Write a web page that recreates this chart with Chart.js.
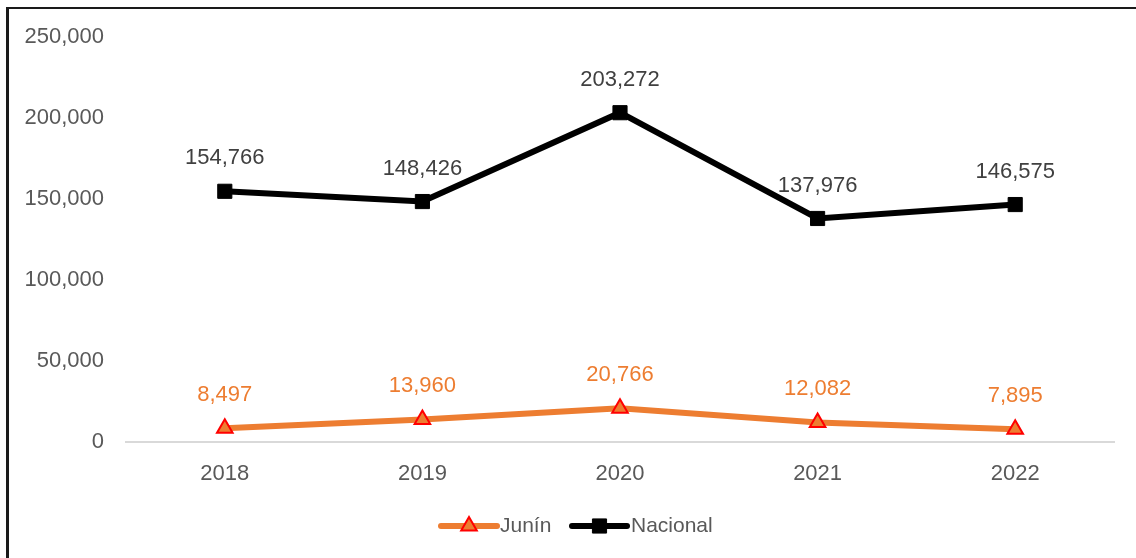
<!DOCTYPE html>
<html>
<head>
<meta charset="utf-8">
<script src="https://cdn.jsdelivr.net/npm/chart.js@4"></script>
<style>
html,body{margin:0;padding:0;background:#fff;}
#wrap{position:relative;width:1136px;height:558px;}
</style>
</head>
<body>
<div id="wrap"><canvas id="c" width="1136" height="558"></canvas></div>
<script>
const categories = ['2018', '2019', '2020', '2021', '2022'];
const junin = [8497, 13960, 20766, 12082, 7895];
const nacional = [154766, 148426, 203272, 137976, 146575];
const yTicks = [0, 50000, 100000, 150000, 200000, 250000];

const FONT = "'Liberation Sans', Arial, sans-serif";
const fmt = v => v.toLocaleString('en-US');

const extras = {
  id: 'extras',
  beforeDraw(chart) {
    const ctx = chart.ctx;
    ctx.save();
    ctx.fillStyle = '#fff';
    ctx.fillRect(0, 0, chart.width, chart.height);
    ctx.fillStyle = '#1a1a1a';
    ctx.fillRect(6, 7, 3, 551);
    ctx.fillRect(6, 7, 1130, 2);
    ctx.restore();
  },
  afterDatasetsDraw(chart) {
    const ctx = chart.ctx;
    ctx.save();
    ctx.font = '22px ' + FONT;
    ctx.textAlign = 'center';
    ctx.textBaseline = 'middle';
    chart.data.datasets.forEach((ds, i) => {
      const meta = chart.getDatasetMeta(i);
      ctx.fillStyle = ds.labelColor;
      meta.data.forEach((pt, j) => {
        ctx.fillText(fmt(ds.data[j]), pt.x, pt.y - 33);
      });
    });
    // legend
    const ly = 526;
    const items = [
      {x0: 441, x1: 497, color: '#ED7D31', style: 'triangle', text: 'Junín', tx: 500},
      {x0: 572, x1: 627, color: '#000000', style: 'rect', text: 'Nacional', tx: 631}
    ];
    items.forEach((it, k) => {
      const ds = chart.data.datasets[k];
      ctx.strokeStyle = it.color;
      ctx.lineWidth = 6;
      ctx.lineCap = 'round';
      ctx.beginPath();
      ctx.moveTo(it.x0, ly);
      ctx.lineTo(it.x1, ly);
      ctx.stroke();
      ctx.lineCap = 'butt';
      ctx.fillStyle = ds.pointBackgroundColor;
      ctx.strokeStyle = ds.pointBorderColor;
      ctx.lineWidth = ds.pointBorderWidth;
      Chart.helpers.drawPoint(ctx, {
        pointStyle: it.style,
        radius: ds.pointRadius,
        rotation: 0,
        borderWidth: ds.pointBorderWidth
      }, (it.x0 + it.x1) / 2, ly);
      ctx.fillStyle = '#595959';
      ctx.font = '21px ' + FONT;
      ctx.textAlign = 'left';
      ctx.fillText(it.text, it.tx, ly);
    });
    ctx.restore();
  }
};

new Chart(document.getElementById('c'), {
  type: 'line',
  data: {
    labels: categories,
    datasets: [
      {
        label: 'Junín',
        data: junin,
        borderColor: '#ED7D31',
        borderWidth: 6,
        pointStyle: 'triangle',
        pointRadius: 9,
        pointHoverRadius: 9,
        pointBackgroundColor: '#ED7D31',
        pointBorderColor: '#FF0000',
        pointBorderWidth: 2,
        labelColor: '#ED7D31',
        tension: 0
      },
      {
        label: 'Nacional',
        data: nacional,
        borderColor: '#000000',
        borderWidth: 6,
        pointStyle: 'rect',
        pointRadius: 10,
        pointHoverRadius: 10,
        pointBackgroundColor: '#000000',
        pointBorderColor: '#000000',
        pointBorderWidth: 1,
        labelColor: '#404040',
        tension: 0
      }
    ]
  },
  options: {
    responsive: false,
    animation: false,
    events: [],
    layout: {padding: {top: 37, right: 22, left: 0, bottom: 0}},
    plugins: {legend: {display: false}, tooltip: {enabled: false}},
    scales: {
      x: {
        offset: true,
        grid: {display: false, drawTicks: false},
        border: {display: true, color: '#d9d9d9', width: 2},
        ticks: {color: '#595959', font: {family: FONT, size: 22}, padding: 19},
        afterFit(s) { s.height = 116; }
      },
      y: {
        min: 0, max: 250000,
        afterBuildTicks(s) { s.ticks = yTicks.map(v => ({value: v})); },
        grid: {display: false, drawTicks: false},
        border: {display: false},
        ticks: {color: '#595959', font: {family: FONT, size: 22}, padding: 22, callback: v => fmt(v)},
        afterFit(s) { s.width = 126; }
      }
    }
  },
  plugins: [extras]
});
</script>
</body>
</html>
